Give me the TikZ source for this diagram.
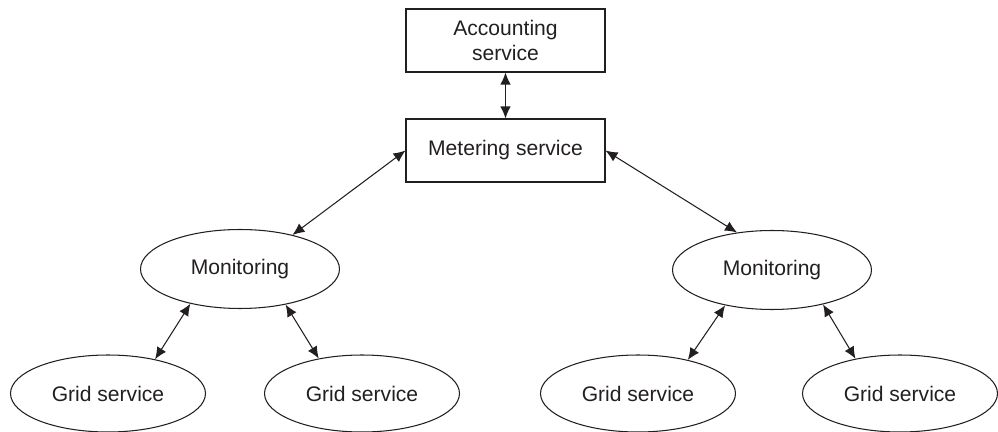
\documentclass[tikz,border=0pt]{standalone}
\usepackage{fontspec}
\setmainfont{Liberation Sans}
\usepackage{tikz}
\usetikzlibrary{arrows.meta,shapes.geometric}
\definecolor{inkgray}{HTML}{231F20}

\begin{document}
\begin{tikzpicture}[
    x=0.02cm,y=-0.02cm,
    font=\fontsize{12}{14.5}\selectfont,
    every node/.style={text=inkgray},
    service/.style={draw=inkgray,line width=0.6pt,minimum width=3.98cm,
      minimum height=1.26cm,align=center,inner sep=2pt},
    monitor/.style={draw=inkgray,ellipse,line width=0.6pt,minimum width=3.98cm,
      minimum height=1.58cm,inner sep=0pt},
    gridsvc/.style={draw=inkgray,ellipse,line width=0.6pt,minimum width=3.9cm,
      minimum height=1.54cm,inner sep=0pt},
    link/.style={draw=inkgray,line width=0.6pt,
      {Latex[length=2.4mm,width=2.1mm]}-{Latex[length=2.4mm,width=2.1mm]}},
  ]
    \useasboundingbox (0,0) rectangle (998,432);

    \node[service] (accounting) at (505.5,40.5) {Accounting\\service};
    \node[service] (metering) at (505.5,150.5) {Metering service};

    \node[monitor] (monleft) at (240,269) {Monitoring};
    \node[monitor] (monright) at (772,270) {Monitoring};

    \foreach \name/\x in {gridA/108,gridB/362,gridC/638,gridD/900} {
      \node[gridsvc] (\name) at (\x,393.5) {Grid service};
    }

    \draw[link] (accounting.south) -- (metering.north);
    \draw[link] (metering.west) -- (monleft.33);
    \draw[link] (metering.east) -- (monright.133);

    \draw[link] (monleft.215) -- (gridA.36);
    \draw[link] (monleft.322) -- (gridB.141);
    \draw[link] (monright.217) -- (gridC.34);
    \draw[link] (monright.326) -- (gridD.142);
  \end{tikzpicture}
\end{document}
